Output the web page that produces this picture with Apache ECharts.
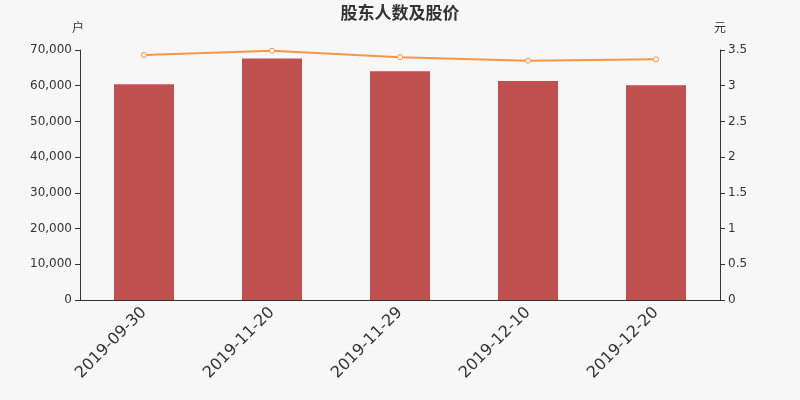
<!DOCTYPE html>
<html>
<head>
<meta charset="utf-8">
<script src="https://cdn.jsdelivr.net/npm/echarts@6/dist/echarts.min.js"></script>
<style>
  html, body { margin: 0; padding: 0; background: #f7f7f7; }
  #chart { width: 800px; height: 400px; }
</style>
</head>
<body>
<div id="chart"></div>
<script>
const dates = ['2019-09-30', '2019-11-20', '2019-11-29', '2019-12-10', '2019-12-20'];
const holders = [60400, 67650, 64050, 61320, 60100];
const prices = [3.43, 3.49, 3.40, 3.35, 3.37];

const font = '"DejaVu Sans", "Noto Sans CJK SC", sans-serif';
const chart = echarts.init(document.getElementById('chart'));

chart.setOption({
    backgroundColor: '#f7f7f7',
    animation: false,
    textStyle: { fontFamily: font },
    title: {
        text: '股东人数及股价',
        left: 'center',
        top: 1,
        textStyle: { fontSize: 17, fontWeight: 'bold', color: '#333', fontFamily: font }
    },
    grid: { left: 80, right: 80, top: 50, bottom: 100 },
    xAxis: {
        type: 'category',
        data: dates,
        axisLine: { lineStyle: { color: '#333' } },
        axisLabel: { rotate: 45, fontSize: 16, color: '#333', interval: 0, margin: 10, fontFamily: font }
    },
    yAxis: [{
        type: 'value',
        name: '户',
        nameGap: 15,
        nameTextStyle: { color: '#333', align: 'center', padding: [0, 4, 0, 0], fontFamily: font },
        min: 0, max: 70000, interval: 10000,
        axisLine: { show: true, lineStyle: { color: '#333' } },
        axisTick: { show: true },
        splitLine: { show: false },
        axisLabel: { color: '#333', fontFamily: font }
    }, {
        type: 'value',
        name: '元',
        nameGap: 15,
        nameTextStyle: { color: '#333', align: 'center', fontFamily: font },
        min: 0, max: 3.5, interval: 0.5,
        axisLine: { show: true, lineStyle: { color: '#333' } },
        axisTick: { show: true },
        splitLine: { show: false },
        axisLabel: { color: '#333', fontFamily: font }
    }],
    series: [{
        type: 'bar',
        data: holders,
        barWidth: 60,
        itemStyle: { color: '#c0504d' }
    }, {
        type: 'line',
        yAxisIndex: 1,
        data: prices,
        symbol: 'circle',
        symbolSize: 5,
        lineStyle: { color: '#f79646', width: 2 },
        itemStyle: { color: '#fff', borderColor: '#f79646', borderWidth: 1 }
    }]
});
</script>
</body>
</html>
